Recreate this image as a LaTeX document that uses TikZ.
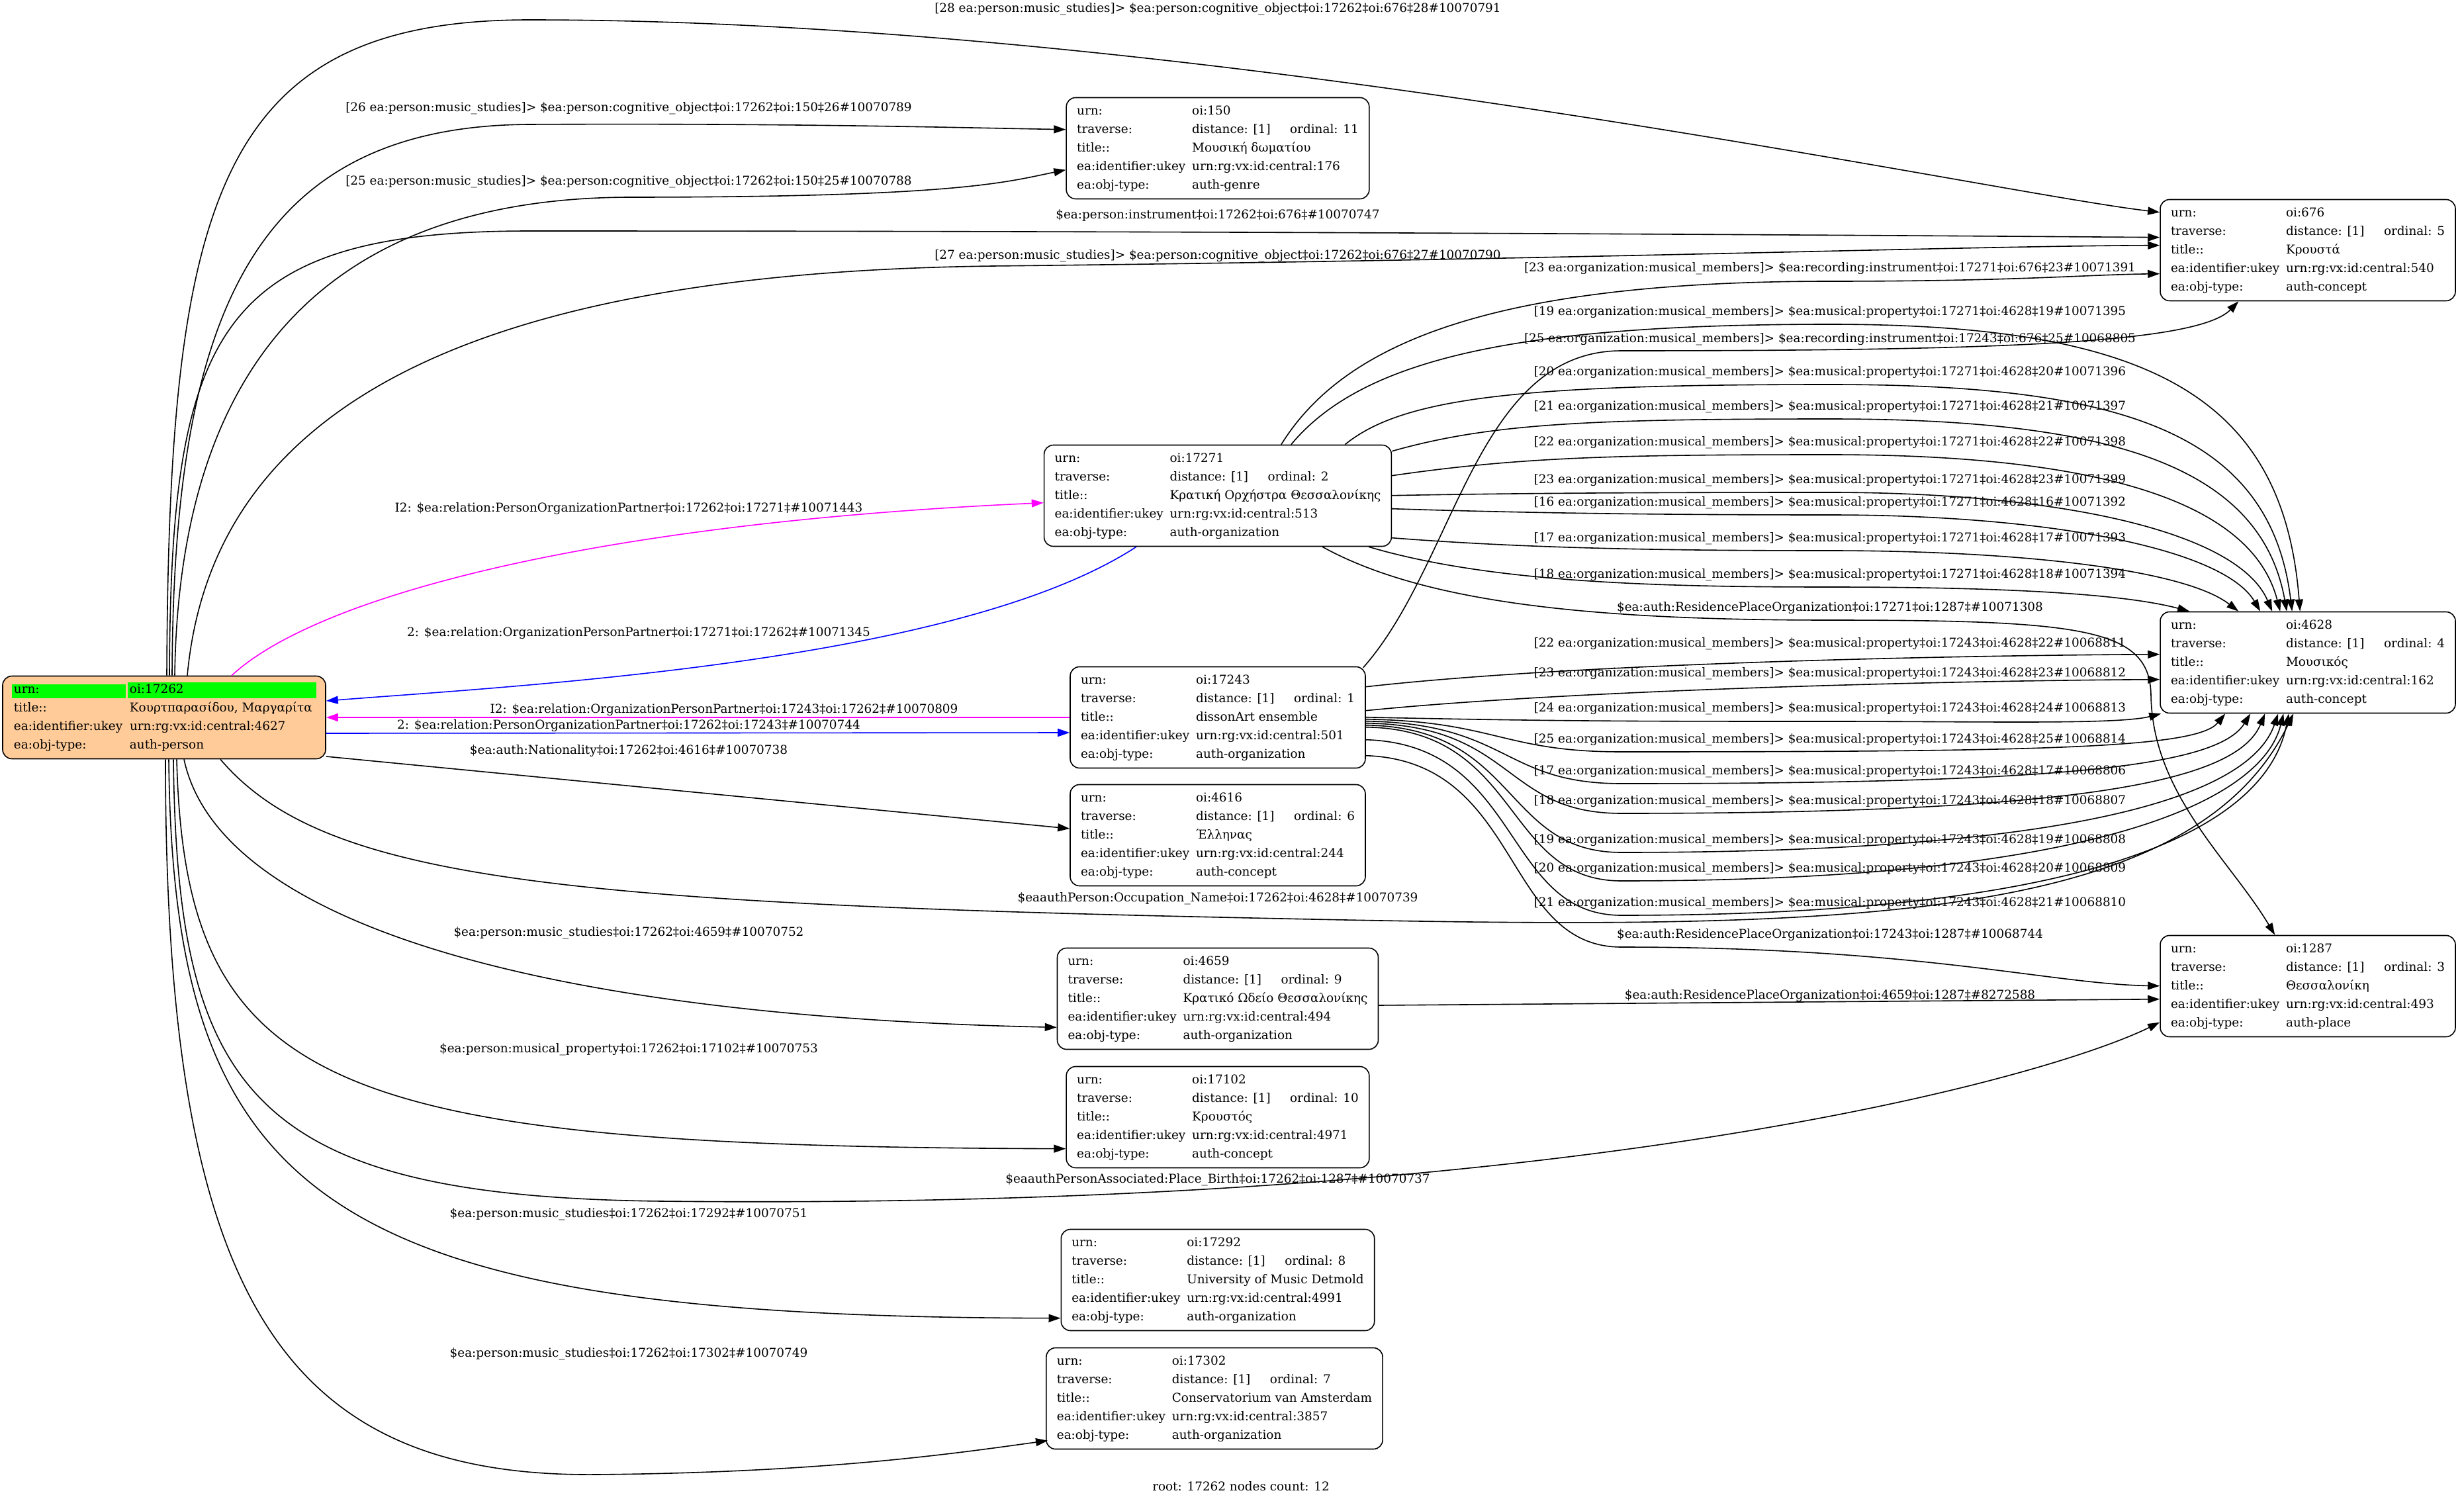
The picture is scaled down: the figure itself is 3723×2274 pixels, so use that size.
\documentclass[tikz,border=0pt]{standalone}
\usepackage{fontspec}
\setmainfont{DejaVu Serif}
\usepackage{xcolor}
\usepackage{tikz}
\usetikzlibrary{arrows.meta,calc}

\definecolor{personfill}{RGB}{255,204,153}
\definecolor{vgreen}{RGB}{0,255,0}
\definecolor{vmag}{RGB}{255,0,255}
\definecolor{vblue}{RGB}{0,0,255}

\newcommand{\oirec}[5]{%
  \begin{tabular}{@{}p{87pt}@{}l@{}}
  urn: & oi:#1\\
  traverse: & \makebox[74pt][l]{distance: [1]}ordinal: #2\hspace{7pt}\\
  title:: & #3\\
  ea:identifier:ukey & urn:rg:vx:id:central:#4\\
  ea:obj-type: & auth-#5
  \end{tabular}}
\newcommand{\hl}[2]{\colorbox{vgreen}{\makebox[#1][l]{\rule[-2pt]{0pt}{7.5pt}#2}}}
\newcommand{\pstud}[3]{[#1 ea:person:music\_studies]> \$ea:person:cognitive\_object‡oi:17262‡oi:#2‡#1\##3}
\newcommand{\mmrec}[3]{[#1 ea:organization:musical\_members]> \$ea:recording:instrument‡oi:#2‡oi:676‡#1\##3}
\newcommand{\mmprop}[3]{[#1 ea:organization:musical\_members]> \$ea:musical:property‡oi:#2‡oi:4628‡#1\##3}
\newcommand{\respl}[2]{\$ea:auth:ResidencePlaceOrganization‡oi:#1‡oi:1287‡\##2}

\tikzset{
  rec/.style={draw, rounded corners=7pt, line width=0.8pt, inner xsep=8pt, inner ysep=3.25pt,
    font=\fontsize{9.2}{14}\selectfont},
  lbl/.style={inner sep=1pt, font=\fontsize{9.2}{11}\selectfont},
  link/.style={line width=0.8pt, -{Triangle[length=9pt,width=6pt]}},
}

\begin{document}
\begin{tikzpicture}[x=0.5pt,y=-0.5pt]
\useasboundingbox (0,0) rectangle (3723,2274);

\node[rec, fill=personfill, inner xsep=7pt] (n17262) at (248,1084) {\setlength{\fboxsep}{1.5pt}%
  \begin{tabular}{@{}l@{\hspace{1.5pt}}l@{}}
  \hl{83pt}{urn:} & \hl{139.5pt}{oi:17262}\\
  \hspace{1.5pt}title:: & \hspace{1.5pt}Κουρτπαρασίδου, Μαργαρίτα\\
  \hspace{1.5pt}ea:identifier:ukey & \hspace{1.5pt}urn:rg:vx:id:central:4627\\
  \hspace{1.5pt}ea:obj-type: & \hspace{1.5pt}auth-person
  \end{tabular}};
\node[rec] (n150) at (1840,224) {\oirec{150}{11}{Μουσική δωματίου}{176}{genre}};
\node[rec] (n676) at (3487,378) {\oirec{676}{5}{Κρουστά}{540}{concept}};
\node[rec] (n17271) at (1840,749) {\oirec{17271}{2}{Κρατική Ορχήστρα Θεσσαλονίκης}{513}{organization}};
\node[rec] (n4628) at (3487,1001) {\oirec{4628}{4}{Μουσικός}{162}{concept}};
\node[rec] (n17243) at (1840,1084) {\oirec{17243}{1}{dissonArt ensemble}{501}{organization}};
\node[rec] (n4616) at (1840,1262) {\oirec{4616}{6}{Έλληνας}{244}{concept}};
\node[rec] (n1287) at (3487,1490) {\oirec{1287}{3}{Θεσσαλονίκη}{493}{place}};
\node[rec] (n4659) at (1840,1509) {\oirec{4659}{9}{Κρατικό Ωδείο Θεσσαλονίκης}{494}{organization}};
\node[rec] (n17102) at (1840,1688) {\oirec{17102}{10}{Κρουστός}{4971}{concept}};
\node[rec] (n17292) at (1840,1934) {\oirec{17292}{8}{University of Music Detmold}{4991}{organization}};
\node[rec] (n17302) at (1835,2113) {\oirec{17302}{7}{Conservatorium van Amsterdam}{3857}{organization}};
\node[lbl] (root) at (1875,2246) {root: 17262 nodes count: 12};

\draw[link] ($(n17262.north)+(4,0)$) .. controls (255,300) and (330,30) .. (800,30) .. controls (1800,30) and (3000,290) .. ($(n676.north west)+(0,20)$) node[lbl] at (1840,14) {\pstud{28}{676}{10070791}};
\draw[link] ($(n17262.north)+(8,0)$) .. controls (258,500) and (330,349) .. (800,349) .. controls (1900,349) and (2900,356) .. ($(n676.north west)+(0,58)$) node[lbl] at (1840,325) {\$ea:person:instrument‡oi:17262‡oi:676‡\#10070747};
\draw[link] ($(n17262.north)+(35,0)$) .. controls (320,620) and (700,412) .. (1500,402) .. controls (2400,392) and (2950,372) .. ($(n676.north west)+(0,70)$) node[lbl] at (1840,387) {\pstud{27}{676}{10070790}};
\draw[link] ($(n17262.north)+(12,0)$) .. controls (262,480) and (380,190) .. (800,188) .. controls (1200,186) and (1450,193) .. ($(n150.north west)+(0,49)$) node[lbl] at (950,164) {\pstud{26}{150}{10070789}};
\draw[link] ($(n17262.north)+(16,0)$) .. controls (270,600) and (450,300) .. (950,298) .. controls (1450,298) and (1520,275) .. ($(n150.north west)+(0,110)$) node[lbl] at (950,275) {\pstud{25}{150}{10070788}};

\draw[link, vmag] ($(n17262.north)+(102,0)$) .. controls (480,900) and (900,790) .. ($(n17271.north west)+(0,88)$) node[lbl, black] at (950,769) {I2: \$ea:relation:PersonOrganizationPartner‡oi:17262‡oi:17271‡\#10071443};
\draw[link, vblue] ($(n17271.south west)+(140,0)$) .. controls (1450,1000) and (800,1035) .. ($(n17262.east)+(0,-25)$) node[lbl, black] at (965,957) {2: \$ea:relation:OrganizationPersonPartner‡oi:17271‡oi:17262‡\#10071345};
\draw[link, vmag] (n17243.west) -- (n17262.east) node[lbl, black] at (1094,1073) {I2: \$ea:relation:OrganizationPersonPartner‡oi:17243‡oi:17262‡\#10070809};
\draw[link, vblue] ($(n17262.east)+(0,24)$) -- ($(n17243.west)+(0,23)$) node[lbl, black] at (950,1097) {2: \$ea:relation:PersonOrganizationPartner‡oi:17262‡oi:17243‡\#10070744};

\draw[link] ($(n17262.east)+(0,59)$) -- ($(n4616.west)+(0,-10)$) node[lbl] at (950,1135) {\$ea:auth:Nationality‡oi:17262‡oi:4616‡\#10070738};
\draw[link] ($(n17262.south)+(85,0)$) .. controls (480,1320) and (800,1362) .. (1800,1385) .. controls (2700,1405) and (3300,1420) .. ($(n4628.south west)+(202,0)$) node[lbl] at (1840,1358) {\$eaauthPerson:Occupation\_Name‡oi:17262‡oi:4628‡\#10070739};
\draw[link] ($(n17262.south)+(30,0)$) .. controls (330,1390) and (800,1535) .. ($(n4659.south west)+(0,-34)$) node[lbl] at (950,1410) {\$ea:person:music\_studies‡oi:17262‡oi:4659‡\#10070752};
\draw[link] ($(n17262.south)+(19,0)$) .. controls (280,1650) and (500,1732) .. ($(n17102.north west)+(0,125)$) node[lbl] at (950,1586) {\$ea:person:musical\_property‡oi:17262‡oi:17102‡\#10070753};
\draw[link] ($(n17262.south)+(14,0)$) .. controls (268,1650) and (380,1808) .. (1000,1815) .. controls (2400,1830) and (3100,1625) .. ($(n1287.north west)+(0,132)$) node[lbl] at (1840,1783) {\$eaauthPersonAssociated:Place\_Birth‡oi:17262‡oi:1287‡\#10070737};
\draw[link] ($(n17262.south)+(7,0)$) .. controls (262,1820) and (500,1990) .. ($(n17292.north west)+(0,135)$) node[lbl] at (950,1835) {\$ea:person:music\_studies‡oi:17262‡oi:17292‡\#10070751};
\draw[link] ($(n17262.south)+(2,0)$) .. controls (250,1950) and (420,2232) .. (900,2228) .. controls (1250,2225) and (1450,2195) .. ($(n17302.north west)+(3,141)$) node[lbl] at (950,2046) {\$ea:person:music\_studies‡oi:17262‡oi:17302‡\#10070749};

\draw[link] ($(n17271.north west)+(359,0)$) .. controls (2030,520) and (2250,425) .. (2765,425) .. controls (3050,425) and (3150,415) .. ($(n676.north west)+(0,113)$) node[lbl] at (2765,406) {\mmrec{23}{17271}{10071391}};
\draw[link] ($(n17271.north west)+(374,0)$) .. controls (2060,540) and (2300,490) .. (2765,490) .. controls (3250,490) and (3450,600) .. ($(n4628.north west)+(212,0)$) node[lbl] at (2765,472) {\mmprop{19}{17271}{10071395}};
\draw[link] ($(n17271.north east)+(-71,0)$) .. controls (2120,600) and (2300,581) .. (2765,581) .. controls (3200,581) and (3430,650) .. ($(n4628.north west)+(200,0)$) node[lbl] at (2765,563) {\mmprop{20}{17271}{10071396}};
\draw[link] ($(n17271.north east)+(0,10)$) .. controls (2250,640) and (2400,633) .. (2765,633) .. controls (3180,633) and (3415,700) .. ($(n4628.north west)+(192,0)$) node[lbl] at (2765,615) {\mmprop{21}{17271}{10071397}};
\draw[link] ($(n17271.north east)+(0,47)$) .. controls (2300,690) and (2450,687) .. (2765,687) .. controls (3150,687) and (3400,750) .. ($(n4628.north west)+(182,0)$) node[lbl] at (2765,669) {\mmprop{22}{17271}{10071398}};
\draw[link] ($(n17271.north east)+(0,77)$) .. controls (2300,745) and (2500,744) .. (2765,744) .. controls (3100,744) and (3380,800) .. ($(n4628.north west)+(170,0)$) node[lbl] at (2765,726) {\mmprop{23}{17271}{10071399}};
\draw[link] ($(n17271.north east)+(0,97)$) .. controls (2300,775) and (2500,778) .. (2765,778) .. controls (3100,778) and (3360,830) .. ($(n4628.north west)+(152,0)$) node[lbl] at (2765,760) {\mmprop{16}{17271}{10071392}};
\draw[link] ($(n17271.north east)+(0,141)$) .. controls (2300,828) and (2500,832) .. (2765,832) .. controls (3050,832) and (3300,860) .. ($(n4628.north west)+(119,0)$) node[lbl] at (2765,814) {\mmprop{17}{17271}{10071393}};
\draw[link] ($(n17271.south east)+(-35,0)$) .. controls (2250,880) and (2500,887) .. (2765,887) .. controls (3000,887) and (3200,895) .. ($(n4628.north west)+(45,0)$) node[lbl] at (2765,869) {\mmprop{18}{17271}{10071394}};
\draw[link] ($(n17271.south east)+(-105,0)$) .. controls (2150,910) and (2400,937) .. (2765,937) .. controls (3150,937) and (3248,950) .. (3250,1050) .. controls (3252,1200) and (3370,1300) .. ($(n1287.north west)+(174,0)$) node[lbl] at (2765,919) {\respl{17271}{10071308}};

\draw[link] ($(n17243.north east)+(-4,2)$) .. controls (2200,850) and (2230,530) .. (2450,530) .. controls (3000,530) and (3320,520) .. ($(n676.south west)+(119,0)$) node[lbl] at (2765,513) {\mmrec{25}{17243}{10068805}};
\draw[link] ($(n17243.north east)+(0,31)$) .. controls (2400,1000) and (3000,990) .. ($(n4628.north west)+(0,65)$) node[lbl] at (2765,973) {\mmprop{22}{17243}{10068811}};
\draw[link] ($(n17243.north east)+(0,67)$) .. controls (2400,1040) and (3000,1028) .. ($(n4628.north west)+(0,103)$) node[lbl] at (2765,1018) {\mmprop{23}{17243}{10068812}};
\draw[link] ($(n17243.north east)+(0,77)$) .. controls (2350,1090) and (2500,1090) .. (2765,1090) .. controls (3000,1090) and (3200,1095) .. ($(n4628.south west)+(2,0)$) node[lbl] at (2765,1071) {\mmprop{24}{17243}{10068813}};
\draw[link] ($(n17243.north east)+(0,80)$) .. controls (2260,1090) and (2270,1136) .. (2450,1136) .. controls (3100,1136) and (3320,1130) .. ($(n4628.south west)+(99,0)$) node[lbl] at (2765,1118) {\mmprop{25}{17243}{10068814}};
\draw[link] ($(n17243.north east)+(0,83)$) .. controls (2280,1093) and (2270,1184) .. (2450,1184) .. controls (3100,1184) and (3350,1160) .. ($(n4628.south west)+(137,0)$) node[lbl] at (2765,1166) {\mmprop{17}{17243}{10068806}};
\draw[link] ($(n17243.north east)+(0,86)$) .. controls (2290,1096) and (2270,1229) .. (2450,1229) .. controls (3150,1229) and (3380,1180) .. ($(n4628.south west)+(159,0)$) node[lbl] at (2765,1211) {\mmprop{18}{17243}{10068807}};
\draw[link] ($(n17243.north east)+(0,89)$) .. controls (2295,1099) and (2270,1288) .. (2450,1288) .. controls (3150,1288) and (3400,1200) .. ($(n4628.south west)+(179,0)$) node[lbl] at (2765,1270) {\mmprop{19}{17243}{10068808}};
\draw[link] ($(n17243.north east)+(0,92)$) .. controls (2300,1102) and (2270,1331) .. (2450,1331) .. controls (3200,1331) and (3420,1200) .. ($(n4628.south west)+(187,0)$) node[lbl] at (2765,1313) {\mmprop{20}{17243}{10068809}};
\draw[link] ($(n17243.north east)+(0,111)$) .. controls (2300,1125) and (2270,1383) .. (2450,1383) .. controls (3250,1383) and (3430,1220) .. ($(n4628.south west)+(195,0)$) node[lbl] at (2765,1365) {\mmprop{21}{17243}{10068810}};
\draw[link] ($(n17243.north east)+(0,135)$) .. controls (2300,1150) and (2270,1431) .. (2450,1431) .. controls (2900,1431) and (3100,1487) .. ($(n1287.north west)+(0,77)$) node[lbl] at (2765,1413) {\respl{17243}{10068744}};
\draw[link] ($(n4659.east)+(0,10)$) -- ($(n1287.north west)+(0,97)$) node[lbl] at (2765,1505) {\respl{4659}{8272588}};

\end{tikzpicture}
\end{document}
